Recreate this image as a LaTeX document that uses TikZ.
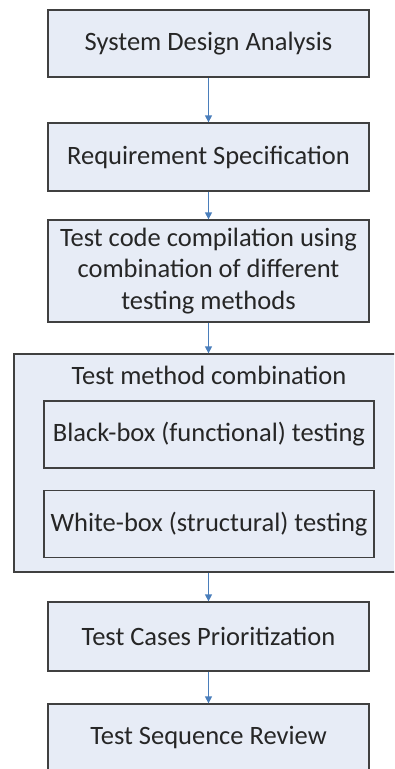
\documentclass[tikz,border=0pt]{standalone}
\usepackage{fontspec}
\setmainfont{Carlito}
\usetikzlibrary{arrows.meta}
\definecolor{boxfill}{HTML}{E7ECF6}
\definecolor{boxline}{HTML}{404040}
\definecolor{arrowc}{HTML}{4A7EBB}
\begin{document}
\begin{tikzpicture}[x=1pt,y=-1pt,
  lbl/.style={font=\fontsize{26.5}{31.5}\selectfont,text=black!85},
  stepbox/.style={lbl,draw=boxline,line width=1.3pt,fill=boxfill,inner sep=0pt,
    minimum width=321pt,align=center},
  innerbox/.style={lbl,draw=boxline,line width=1.3pt,fill=boxfill,inner sep=0pt,
    minimum width=330pt,minimum height=67pt,align=center},
  flow/.style={draw=arrowc,line width=1.3pt,-{Triangle[width=7pt,length=7pt]}}]
\useasboundingbox (0,0) rectangle (394,769);
\clip (0,0) rectangle (394,769);
\node[stepbox,minimum height=67pt] (s1) at (208.5,43.5) {System Design Analysis};
\node[stepbox,minimum height=68pt] (s2) at (208.5,157) {Requirement Specification};
\node[stepbox,minimum height=102pt] (s3) at (208.5,271) {Test code compilation using\\combination of different\\testing methods};
\node[draw=boxline,line width=1.3pt,fill=boxfill,minimum width=390pt,minimum height=218pt,inner sep=0pt] (grp) at (209,463) {};
\node[lbl] (gt) at (209,375) {Test method combination};
\node[innerbox] (bb) at (209,434.5) {Black-box (functional) testing};
\node[innerbox] (wb) at (209,524) {White-box (structural) testing};
\node[stepbox,minimum height=69pt] (s5) at (208.5,636.5) {Test Cases Prioritization};
\node[stepbox,minimum height=100pt] (s6) at (208.5,754) {};
\node[lbl] (s6t) at (208.5,738) {Test Sequence Review};
\draw[flow] (s1.south) -- (s2.north);
\draw[flow] (s2.south) -- (s3.north);
\draw[flow] (s3.south) -- (grp.north -| s3.south);
\draw[flow] (grp.south -| s5.north) -- (s5.north);
\draw[flow] (s5.south) -- (s6.north);
\end{tikzpicture}
\end{document}
